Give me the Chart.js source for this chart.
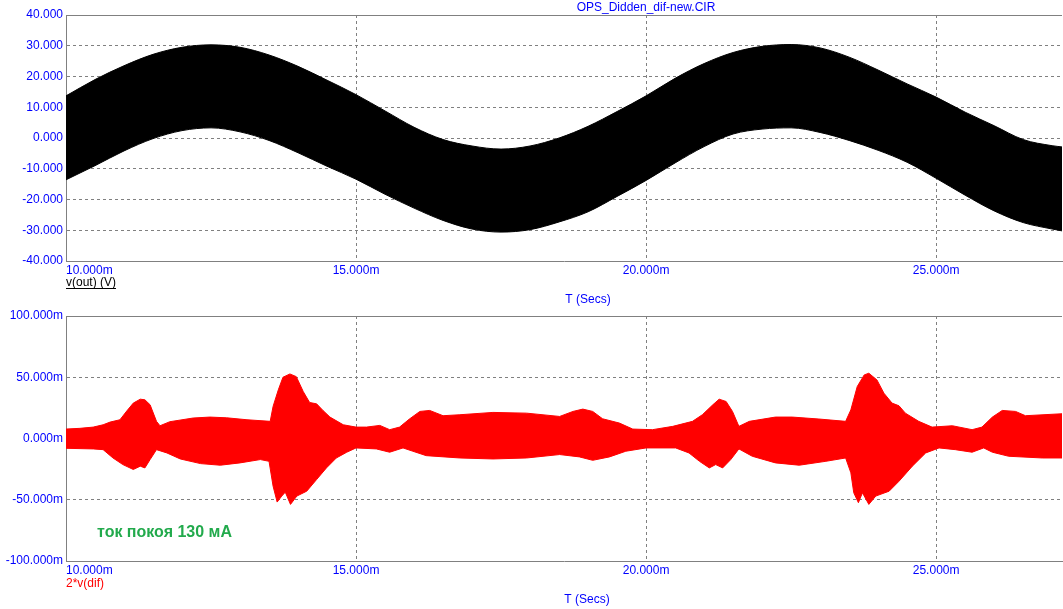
<!DOCTYPE html>
<html>
<head>
<meta charset="utf-8">
<title>OPS_Didden_dif-new.CIR</title>
<script src="https://cdn.jsdelivr.net/npm/chart.js@4.4.1/dist/chart.umd.min.js"></script>
<style>
  html, body { margin: 0; padding: 0; background: #fff; }
  #wrap { position: relative; width: 1063px; height: 609px; overflow: hidden; }
  canvas { position: absolute; left: 0; }
  #chart-out { top: 0; }
  #chart-dif { top: 301px; }
</style>
</head>
<body>
<div id="wrap">
  <canvas id="chart-out" width="1064" height="306"></canvas>
  <canvas id="chart-dif" width="1064" height="308"></canvas>
</div>
<script>
/* Simulator waveform plot: v(out) and 2*v(dif) envelopes */

const FONT = '"Liberation Sans", Arial, sans-serif';
const BLUE = '#0000ff';
const GRID = '#808080';

// ─── Axes ────────────────────────────────────────────────────────────────────

const X_MIN = 10;
const X_MAX = 27.17;
const xTicks = [10, 15, 20, 25];                       // ms
const outTicks = [-40, -30, -20, -10, 0, 10, 20, 30, 40]; // V
const difTicks = [-100, -50, 0, 50, 100];              // mV

// ─── v(out): upper / lower edge of the black band (V) ────────────────────────

const outTime = [10.0, 10.5, 11.0, 11.5, 12.0, 12.5, 13.0, 13.5, 14.0, 14.5,
                 15.0, 15.5, 16.0, 16.5, 17.0, 17.5, 18.0, 18.5, 19.0, 19.5,
                 20.0, 20.5, 21.0, 21.5, 22.0, 22.5, 23.0, 23.5, 24.0, 24.5,
                 25.0, 25.5, 26.0, 26.5, 27.0, 27.17];
const outUpper = [13.7, 19.0, 23.5, 27.2, 29.5, 30.3, 29.5, 27.0, 23.3, 18.8,
                  14.1, 8.8, 3.5, -0.5, -2.6, -3.6, -2.6, 0.0, 3.8, 8.6,
                  13.7, 19.4, 24.2, 27.8, 29.8, 30.4, 29.3, 26.3, 22.1, 17.6,
                  13.3, 8.4, 4.0, -0.5, -2.5, -2.9];
const outLower = [-13.6, -9.0, -4.2, -0.2, 2.4, 3.3, 2.0, -0.8, -4.8, -9.2,
                  -13.4, -18.3, -22.8, -26.8, -29.6, -30.6, -29.8, -27.3, -24.0, -19.0,
                  -13.8, -8.1, -2.8, 1.3, 2.9, 3.3, 1.8, -0.8, -4.0, -7.9,
                  -13.1, -18.6, -23.7, -27.5, -29.6, -30.2];

// ─── 2*v(dif): upper / lower edge of the red band (mV) ───────────────────────

const difUpperTime = [10.0, 10.24, 10.47, 10.64, 10.76, 10.93, 11.05, 11.16, 11.28, 11.36,
                      11.45, 11.56, 11.62, 11.79, 12.19, 12.48, 12.77, 13.12, 13.52, 13.57,
                      13.66, 13.74, 13.86, 13.97, 14.09, 14.2, 14.32, 14.43, 14.55, 14.78,
                      15.0, 15.18, 15.41, 15.58, 15.75, 15.92, 16.1, 16.27, 16.5, 16.79,
                      17.36, 17.94, 18.51, 18.74, 18.91, 19.08, 19.25, 19.54, 19.77, 20.11,
                      20.46, 20.8, 20.97, 21.15, 21.26, 21.38, 21.49, 21.6, 21.78, 22.23,
                      22.52, 22.98, 23.44, 23.53, 23.64, 23.76, 23.84, 23.98, 24.1, 24.24,
                      24.36, 24.47, 24.7, 24.93, 25.28, 25.62, 25.79, 25.97, 26.14, 26.37,
                      26.54, 27.17];
const difUpper = [7.7, 8.3, 9.3, 11.2, 13.4, 15.3, 22.6, 28.9, 32.1, 31.6,
                  27.5, 14.0, 10.4, 13.7, 16.7, 17.5, 16.9, 15.3, 14.0, 26.2,
                  39.7, 50.0, 52.7, 50.5, 38.3, 29.4, 28.3, 22.9, 17.5, 11.2,
                  9.3, 9.3, 10.7, 7.2, 9.3, 15.9, 22.1, 22.9, 18.6, 19.4,
                  21.3, 20.7, 18.0, 22.1, 24.0, 22.1, 16.1, 12.6, 7.7, 7.2,
                  9.9, 14.0, 19.4, 27.5, 32.1, 30.2, 22.1, 9.9, 14.0, 17.5,
                  17.5, 15.9, 14.0, 23.4, 42.4, 51.9, 53.3, 47.8, 37.0, 28.9,
                  26.7, 20.7, 14.0, 9.3, 10.4, 7.2, 9.3, 17.5, 22.9, 22.1,
                  18.6, 20.2];

const difLowerTime = [10.0, 10.47, 10.64, 10.81, 10.98, 11.16, 11.28, 11.36, 11.45, 11.56,
                      11.74, 11.97, 12.32, 12.66, 13.0, 13.35, 13.5, 13.57, 13.64, 13.72,
                      13.78, 13.87, 13.98, 14.15, 14.32, 14.49, 14.66, 14.84, 15.0, 15.35,
                      15.58, 15.81, 15.98, 16.21, 16.79, 17.36, 17.94, 18.51, 18.85, 19.08,
                      19.37, 19.65, 20.0, 20.51, 20.74, 20.92, 21.09, 21.2, 21.32, 21.46,
                      21.6, 21.83, 22.23, 22.64, 23.1, 23.44, 23.53, 23.58, 23.66, 23.73,
                      23.84, 23.96, 24.19, 24.36, 24.59, 24.82, 25.05, 25.33, 25.62, 25.82,
                      25.97, 26.25, 26.83, 27.17];
const difLower = [-8.0, -8.5, -9.1, -15.9, -21.3, -25.3, -22.6, -24.0, -17.2, -9.1,
                  -11.8, -16.7, -20.5, -21.8, -19.9, -17.2, -18.6, -38.9, -51.9, -47.0,
                  -43.8, -53.8, -47.0, -43.0, -33.5, -24.0, -15.9, -11.2, -7.7, -8.5,
                  -11.2, -7.7, -10.4, -14.0, -15.9, -16.7, -15.9, -13.1, -15.0, -17.8,
                  -15.0, -10.4, -7.7, -7.7, -11.8, -18.6, -24.0, -21.3, -24.0, -17.2,
                  -8.5, -14.5, -19.9, -21.8, -18.6, -15.9, -28.0, -44.3, -52.4, -44.3,
                  -53.8, -47.0, -43.0, -34.9, -22.6, -11.8, -7.7, -9.1, -11.2, -7.7,
                  -11.2, -14.5, -15.9, -15.9];

const pairs = (xs, ys) => xs.map((x, i) => ({ x, y: ys[i] }));

// ─── Frame + free text ───────────────────────────────────────────────────────

const captionPlugin = {
  id: 'captions',
  afterDraw(chart, args, opts) {
    const ctx = chart.ctx;
    const a = chart.chartArea;
    ctx.save();
    // top edge of the plot box (left/bottom come from the axis borders)
    ctx.fillStyle = GRID;
    ctx.fillRect(a.left, a.top, a.right - a.left, 1);
    (opts.items || []).forEach(it => {
      ctx.font = it.font || `12px ${FONT}`;
      ctx.fillStyle = it.color;
      ctx.textAlign = it.align || 'left';
      ctx.textBaseline = 'alphabetic';
      ctx.fillText(it.text, it.x, it.y);
      if (it.underline) {
        const w = ctx.measureText(it.text).width;
        ctx.fillRect(it.x, it.y + 2, w, 1);
      }
    });
    ctx.restore();
  },
};

// ─── Chart factory ───────────────────────────────────────────────────────────

function makeChart(id, cfg) {
  return new Chart(document.getElementById(id), {
    type: 'line',
    data: {
      datasets: [
        { data: cfg.upper, borderColor: cfg.color, backgroundColor: cfg.color, borderWidth: 1,
          pointRadius: 0, fill: '+1', tension: cfg.tension, cubicInterpolationMode: cfg.interp },
        { data: cfg.lower, borderColor: cfg.color, backgroundColor: cfg.color, borderWidth: 1,
          pointRadius: 0, fill: false, tension: cfg.tension, cubicInterpolationMode: cfg.interp },
      ],
    },
    options: {
      responsive: false,
      animation: false,
      events: [],
      layout: { padding: { left: 0, top: 15, right: 0, bottom: cfg.padBottom } },
      plugins: {
        legend: { display: false },
        tooltip: { enabled: false },
        captions: { items: cfg.captions },
      },
      scales: {
        x: {
          type: 'linear',
          min: X_MIN,
          max: X_MAX,
          afterBuildTicks: s => { s.ticks = [...xTicks, X_MAX].map(value => ({ value })); },
          afterFit: s => { s.height = 20; },
          grid: { color: c => (c.tick && c.tick.value === X_MAX ? 'rgba(0,0,0,0)' : GRID), drawTicks: false },
          border: { color: GRID, dash: [3, 3] },
          ticks: {
            align: 'inner', autoSkip: false, maxRotation: 0, padding: 2,
            color: BLUE, font: { family: FONT, size: 12 },
            callback: v => (xTicks.includes(v) ? v.toFixed(3) + 'm' : ''),
          },
        },
        y: {
          type: 'linear',
          min: cfg.ticks[0],
          max: cfg.ticks[cfg.ticks.length - 1],
          afterBuildTicks: s => { s.ticks = cfg.ticks.map(value => ({ value })); },
          afterFit: s => { s.width = 66; },
          grid: { color: GRID, drawTicks: false },
          border: { color: GRID, dash: [3, 3] },
          ticks: {
            padding: 3, color: BLUE, font: { family: FONT, size: 12 },
            callback: v => v.toFixed(3) + cfg.unit,
          },
        },
      },
    },
    plugins: [captionPlugin],
  });
}

makeChart('chart-out', {
  upper: pairs(outTime, outUpper),
  lower: pairs(outTime, outLower),
  color: '#000000',
  tension: 0.4,
  interp: 'monotone',
  ticks: outTicks,
  unit: '',
  padBottom: 25,
  captions: [
    { text: 'OPS_Didden_dif-new.CIR', x: 646, y: 11, color: BLUE, align: 'center' },
    { text: 'v(out) (V)', x: 66, y: 286, color: '#000000', underline: true },
    { text: 'T (Secs)', x: 588, y: 303, color: BLUE, align: 'center' },
  ],
});

makeChart('chart-dif', {
  upper: pairs(difUpperTime, difUpper),
  lower: pairs(difLowerTime, difLower),
  color: '#ff0000',
  tension: 0,
  interp: 'default',
  ticks: difTicks,
  unit: 'm',
  padBottom: 28,
  captions: [
    { text: 'ток покоя 130 мА', x: 97, y: 236, color: '#22aa4c', font: `bold 16px ${FONT}` },
    { text: '2*v(dif)', x: 66, y: 286, color: '#ff0000' },
    { text: 'T (Secs)', x: 587, y: 302, color: BLUE, align: 'center' },
  ],
});
</script>
</body>
</html>
